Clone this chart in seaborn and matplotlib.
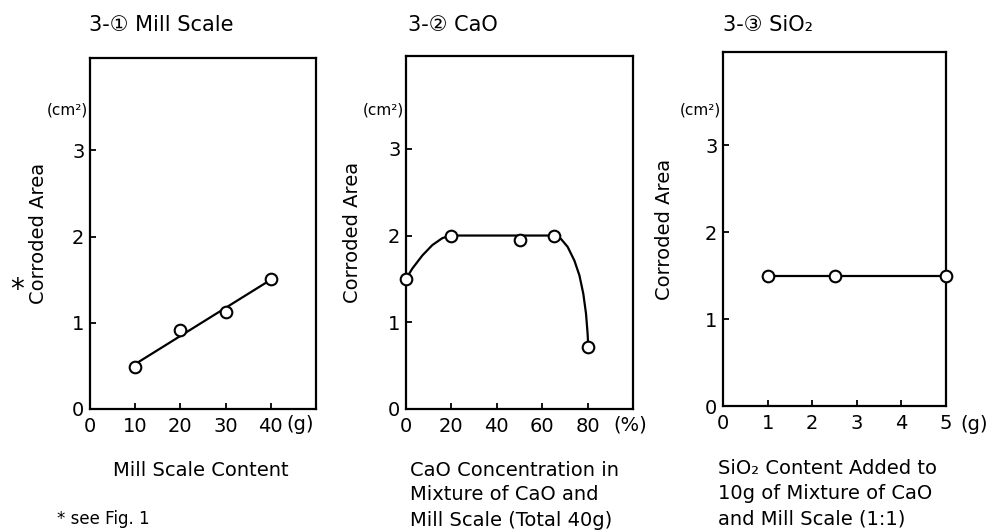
import matplotlib
matplotlib.use("Agg")
import matplotlib.pyplot as plt
import seaborn as sns
import pandas as pd

# ---------------- data ----------------
mill_x = [10, 20, 30, 40]
mill_y = [0.49, 0.92, 1.12, 1.51]

cao_x = [0, 20, 50, 65, 80]
cao_y = [1.50, 2.00, 1.95, 2.00, 0.71]
# hand-drawn guide curve
cao_curve_x = [0, 2.8, 7.2, 11.6, 16.0, 19.7, 64.6, 68.3, 71.2, 74.2, 76.4, 78.1, 79.3, 80.0, 80.3]
cao_curve_y = [1.50, 1.62, 1.77, 1.89, 1.97, 2.00, 2.00, 1.96, 1.87, 1.71, 1.54, 1.33, 1.10, 0.87, 0.71]

sio2_x = [1, 2.5, 5]
sio2_y = [1.49, 1.49, 1.49]

titles = ["3-\u2460 Mill Scale", "3-\u2461 CaO", "3-\u2462 SiO\u2082"]
ylabel = "Corroded Area"
unit_y = "(cm\u00b2)"
xticks = [[0, 10, 20, 30, 40], [0, 20, 40, 60, 80], [0, 1, 2, 3, 4, 5]]
xunits = ["(g)", "(%)", "(g)"]
yticks = [0, 1, 2, 3]
xlabel1 = ["Mill Scale Content"]
xlabel2 = ["CaO Concentration in", "Mixture of CaO and", "Mill Scale (Total 40g)"]
xlabel3 = ["SiO\u2082 Content Added to", "10g of Mixture of CaO", "and Mill Scale (1:1)"]
footnote = "* see Fig. 1"

# ---------------- style ----------------
sns.set_style("ticks")
plt.rcParams["font.family"] = ["DejaVu Sans", "Noto Sans CJK JP"]
plt.rcParams["axes.linewidth"] = 1.6
for k in ["text.color", "axes.labelcolor", "xtick.color", "ytick.color", "axes.edgecolor"]:
    plt.rcParams[k] = "black"

W, H = 991, 531
fig = plt.figure(figsize=(W / 100, H / 100), dpi=100)


def fx(x):
    return x / W


def fy(y):
    return 1 - y / H


def make_ax(left, top, right, bottom):
    return fig.add_axes([fx(left), fy(bottom), (right - left) / W, (bottom - top) / H])


ax1 = make_ax(90, 58, 316, 409)
ax2 = make_ax(406, 56, 633, 409)
ax3 = make_ax(723, 52, 946, 406)
axes = [ax1, ax2, ax3]
xlims = [(0, 50), (0, 100), (0, 5)]

mk = dict(marker="o", s=70, color="white", edgecolor="black", linewidth=1.5,
          zorder=4, clip_on=False, legend=False)

# panel 1: regression line + points
df1 = pd.DataFrame({"x": mill_x, "y": mill_y})
sns.regplot(data=df1, x="x", y="y", ax=ax1, ci=None, scatter=False,
            line_kws=dict(color="black", lw=1.6))
sns.scatterplot(data=df1, x="x", y="y", ax=ax1, **mk)

# panel 2: guide curve + points
dfc = pd.DataFrame({"x": cao_curve_x, "y": cao_curve_y})
sns.lineplot(data=dfc, x="x", y="y", ax=ax2, sort=False, color="black", lw=1.6)
df2 = pd.DataFrame({"x": cao_x, "y": cao_y})
sns.scatterplot(data=df2, x="x", y="y", ax=ax2, **mk)

# panel 3
df3 = pd.DataFrame({"x": sio2_x, "y": sio2_y})
sns.lineplot(data=df3, x="x", y="y", ax=ax3, color="black", lw=1.6)
sns.scatterplot(data=df3, x="x", y="y", ax=ax3, **mk)

label_x = [38, 352, 665]
for i, ax in enumerate(axes):
    ax.set_xlim(*xlims[i])
    ax.set_ylim(0, 4.07)
    ax.set_xticks(xticks[i])
    ax.set_yticks(yticks)
    ax.tick_params(direction="in", length=4, width=1.3, labelsize=14,
                   colors="black", pad=4)
    ax.tick_params(axis="x", pad=6)
    for s in ax.spines.values():
        s.set_visible(True)
        s.set_color("black")
        s.set_linewidth(1.6)
    ax.set_xlabel("")
    ax.set_ylabel(ylabel, fontsize=14)
    pos = ax.get_position()
    lx = (label_x[i] - pos.x0 * W) / (pos.width * W)
    ax.yaxis.set_label_coords(lx, 0.5)
    ax.yaxis.label.set_va("center")

# titles
for x0, t in zip([89, 408, 723], titles):
    fig.text(fx(x0), fy(25), t, ha="left", va="center", fontsize=15)

# (cm2) units
for xr in [88, 404, 721]:
    fig.text(fx(xr), fy(110), unit_y, ha="right", va="center", fontsize=11)

# x units
for xl, u in zip([286, 613, 960], xunits):
    fig.text(fx(xl), fy(425), u, ha="left", va="center", fontsize=14)

# asterisk beside panel-1 y label
fig.text(fx(17), fy(290), "*", ha="center", va="center", fontsize=20)

# x labels
fig.text(fx(201), fy(470), xlabel1[0], ha="center", va="center", fontsize=14)
for j, line in enumerate(xlabel2):
    fig.text(fx(410), fy(470 + 25 * j), line, ha="left", va="center", fontsize=14)
for j, line in enumerate(xlabel3):
    fig.text(fx(718), fy(468 + 25.5 * j), line, ha="left", va="center", fontsize=14)

fig.text(fx(57), fy(528), footnote, ha="left", va="bottom", fontsize=12)

fig.savefig("out.png", dpi=100, facecolor="white")
